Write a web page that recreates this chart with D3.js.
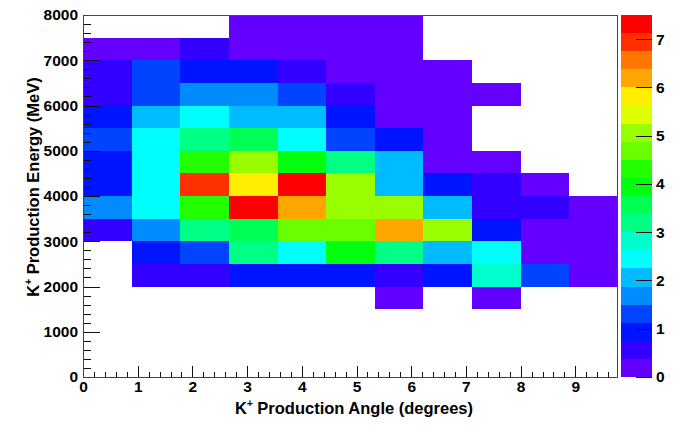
<!DOCTYPE html>
<html><head><meta charset="utf-8">
<script src="https://cdn.jsdelivr.net/npm/d3@7/dist/d3.min.js"></script>
<style>
body{margin:0;background:#fff;}
text{font-family:"Liberation Sans",Arial,Helvetica,sans-serif;font-weight:bold;fill:#000;}
</style>
</head><body>
<svg id="chart" width="683" height="425"></svg>
<script>
// ---- data (bin contents, null = empty bin) ----
const angleRange = [0, 9.78];          // degrees, 11 equal bins
const nAngleBins = 11;
const energyLow = [7500, 7000, 6500, 6000, 5500, 5000, 4500, 4000, 3500, 3000, 2500, 2000, 1500];
const energyWidth = 500;
const row7500 = [null, null, null, 0.2, 0.2, 0.2, 0.2, null, null, null, null];
const row7000 = [0.2, 0.2, 0.6, 0.2, 0.2, 0.2, 0.2, null, null, null, null];
const row6500 = [0.6, 1.3, 0.9, 0.9, 0.6, 0.2, 0.2, 0.2, null, null, null];
const row6000 = [0.6, 1.3, 1.7, 1.7, 1.3, 0.6, 0.2, 0.2, 0.2, null, null];
const row5500 = [0.9, 2.1, 2.4, 2.1, 2.1, 0.9, 0.2, 0.2, null, null, null];
const row5000 = [1.3, 2.4, 3.2, 3.6, 2.4, 1.3, 0.9, 0.2, null, null, null];
const row4500 = [0.9, 2.4, 4.3, 5.1, 3.9, 3.2, 2.1, 0.2, 0.2, null, null];
const row4000 = [0.9, 2.4, 6.9, 5.8, 7.3, 5.1, 2.1, 0.9, 0.6, 0.2, null];
const row3500 = [1.7, 2.4, 4.3, 7.3, 6.2, 5.1, 5.1, 2.1, 0.6, 0.6, 0.2];
const row3000 = [0.6, 1.7, 3.2, 3.6, 4.7, 4.7, 6.2, 5.1, 0.9, 0.2, 0.2];
const row2500 = [null, 0.9, 1.3, 3.2, 2.4, 3.9, 3.2, 2.1, 2.4, 0.2, 0.2];
const row2000 = [null, 0.6, 0.6, 0.9, 0.9, 0.9, 0.6, 0.9, 2.8, 1.3, 0.2];
const row1500 = [null, null, null, null, null, null, 0.2, null, 0.2, null, null];
const energyRows = [row7500, row7000, row6500, row6000, row5500, row5000, row4500,
                    row4000, row3500, row3000, row2500, row2000, row1500];
const xTickLabels = [0, 1, 2, 3, 4, 5, 6, 7, 8, 9];
const yTickLabels = [0, 1000, 2000, 3000, 4000, 5000, 6000, 7000, 8000];
const zTickLabels = [0, 1, 2, 3, 4, 5, 6, 7];
const zMax = 7.5;
const nContours = 20;

// ---- layout ----
const L = 83, R = 618, T = 15, B = 377;
const svg = d3.select("#chart");
const x = d3.scaleLinear().domain(angleRange).range([L, R]);
const y = d3.scaleLinear().domain([0, 8000]).range([B, T]);
const z = d3.scaleLinear().domain([0, zMax]).range([B, T]);

// ROOT "pretty" palette (50 colours) picked for 20 contour levels
function levelColor(k) {
  const idx = Math.floor((k + 0.99) * 50 / nContours);
  const hue = idx < 49 ? 280 - (idx + 1) * 5.6 : 0;
  return d3.hsl(hue, 1, 0.5).formatHex();
}
function valueColor(v) {
  const k = Math.max(0, Math.min(nContours - 1, Math.floor(v / (zMax / nContours))));
  return levelColor(k);
}

const binW = (angleRange[1] - angleRange[0]) / nAngleBins;
const cells = [];
energyRows.forEach((row, i) => {
  row.forEach((v, j) => {
    if (v !== null) cells.push({ a0: angleRange[0] + j * binW, a1: angleRange[0] + (j + 1) * binW,
                                 e0: energyLow[i], e1: energyLow[i] + energyWidth, v });
  });
});

svg.append("g").attr("shape-rendering", "crispEdges")
  .selectAll("rect").data(cells).join("rect")
  .attr("x", d => x(d.a0)).attr("y", d => y(d.e1))
  .attr("width", d => x(d.a1) - x(d.a0)).attr("height", d => y(d.e0) - y(d.e1))
  .attr("fill", d => valueColor(d.v));

// axes
function styleAxis(g) {
  g.select(".domain").remove();
  g.selectAll(".tick line").attr("stroke", "#111").attr("shape-rendering", "crispEdges");
  g.selectAll("text").style("font-size", "15.5px").style("font-family", '"Liberation Sans",Arial,sans-serif').style("font-weight", "bold");
}
const minorX = d3.range(0, 9.7, 0.2).filter(v => Math.abs(v - Math.round(v)) > 1e-6);
svg.append("g").attr("transform", `translate(0,${B})`)
  .call(d3.axisBottom(x).tickValues(minorX).tickSize(-5).tickFormat(""))
  .call(styleAxis);
svg.append("g").attr("transform", `translate(0,${B})`)
  .call(d3.axisBottom(x).tickValues(xTickLabels).tickSize(-11).tickPadding(4).tickFormat(d3.format("d")))
  .call(styleAxis);

const minorY = d3.range(0, 8001, 200).filter(v => v % 1000 !== 0);
svg.append("g").attr("transform", `translate(${L},0)`)
  .call(d3.axisLeft(y).tickValues(minorY).tickSize(-8).tickFormat(""))
  .call(styleAxis);
svg.append("g").attr("transform", `translate(${L},0)`)
  .call(d3.axisLeft(y).tickValues(yTickLabels).tickSize(-17).tickPadding(5).tickFormat(d3.format("d")))
  .call(styleAxis);

// frame
svg.append("rect").attr("x", L + 0.5).attr("y", T + 0.5).attr("width", R - L - 1).attr("height", B - T)
  .attr("fill", "none").attr("stroke", "#444").attr("stroke-width", 1).attr("shape-rendering", "crispEdges");

// colour palette
const PL = 621, PR = 652;
const levels = d3.range(nContours);
svg.append("g").attr("shape-rendering", "crispEdges")
  .selectAll("rect").data(levels).join("rect")
  .attr("x", PL).attr("width", PR - PL)
  .attr("y", k => z((k + 1) * zMax / nContours))
  .attr("height", k => z(k * zMax / nContours) - z((k + 1) * zMax / nContours))
  .attr("fill", k => levelColor(k));
svg.append("g").attr("transform", `translate(${PR},0)`)
  .call(d3.axisRight(z).tickValues(zTickLabels).tickSize(-16).tickPadding(4).tickFormat(d3.format("d")))
  .call(styleAxis);

// titles
const xt = svg.append("text").attr("x", 354).attr("y", 413.5).attr("text-anchor", "middle").style("font-size", "16.5px");
xt.append("tspan").text("K");
xt.append("tspan").attr("dy", -7).style("font-size", "10px").text("+");
xt.append("tspan").attr("dy", 7).text(" Production Angle (degrees)");

const yt = svg.append("text").attr("transform", "translate(39,187) rotate(-90)").attr("text-anchor", "middle").style("font-size", "16.5px");
yt.append("tspan").text("K");
yt.append("tspan").attr("dy", -7).style("font-size", "10px").text("+");
yt.append("tspan").attr("dy", 7).text(" Production Energy (MeV)");
</script>
</body></html>
